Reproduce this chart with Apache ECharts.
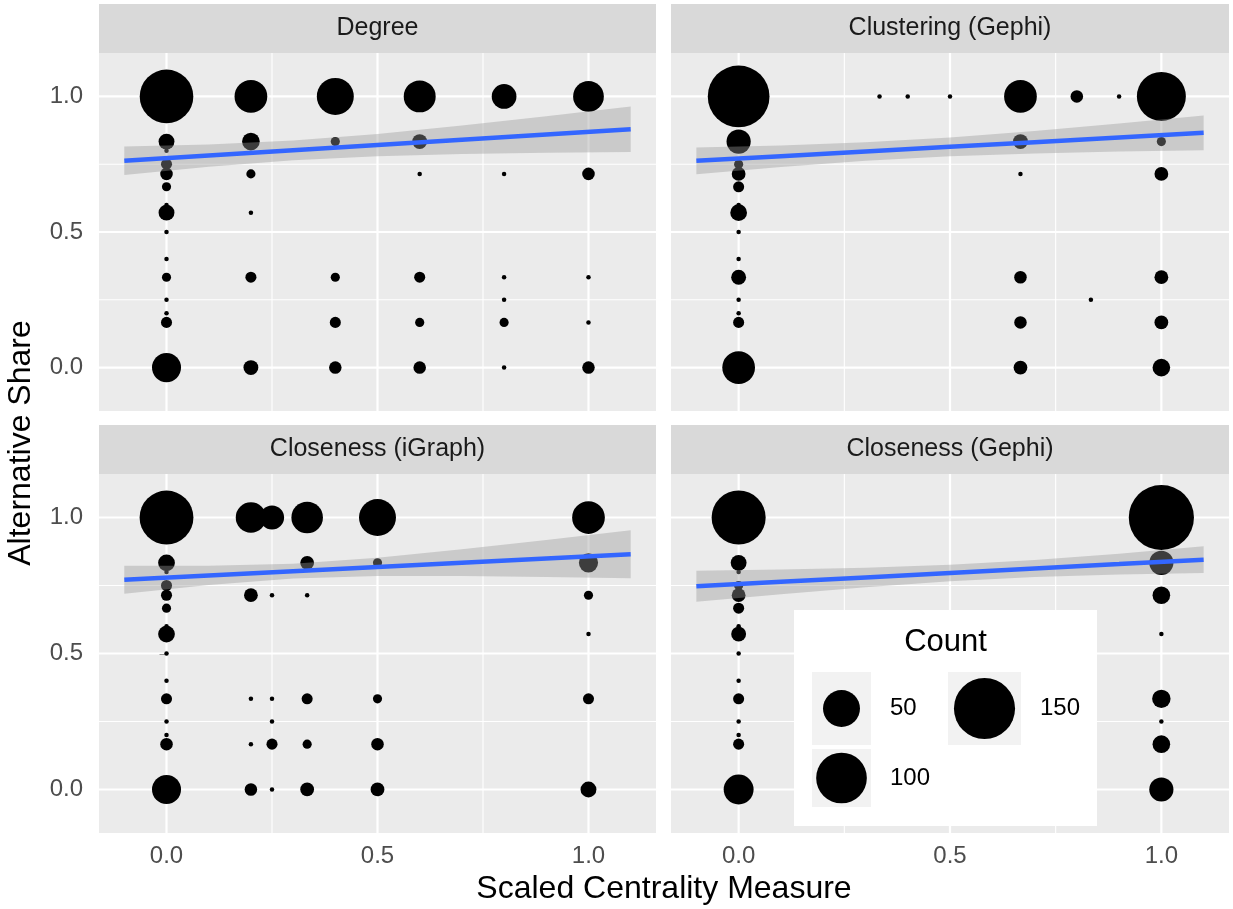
<!DOCTYPE html>
<html>
<head>
<meta charset="utf-8">
<script src="https://cdn.jsdelivr.net/npm/echarts@6/dist/echarts.min.js"></script>
<style>
  html, body { margin: 0; padding: 0; background: #ffffff; }
  #chart { width: 1233px; height: 909px; }
</style>
</head>
<body>
<div id="chart"></div>
<script>
// ---- data -------------------------------------------------------------
const panelNames = ['Degree', 'Clustering (Gephi)', 'Closeness (iGraph)', 'Closeness (Gephi)'];
const xTicks = [0, 0.5, 1];
const yTicks = [0, 0.5, 1];
const minorBreaks = [0.25, 0.75];
const legendCounts = [50, 100, 150];

// [scaled centrality, alternative share, count]
const degreePts = [
  [0, 1, 113], [0.2, 1, 38], [0.4, 1, 50], [0.6, 1, 36], [0.8, 1, 20], [1, 1, 33],
  [0, 0.8333, 7], [0.2, 0.8333, 9], [0.4, 0.8333, 2], [0.6, 0.8333, 6],
  [0, 0.8, 1], [0, 0.75, 3],
  [0, 0.7143, 4], [0.2, 0.7143, 2], [0.6, 0.7143, 1], [0.8, 0.7143, 1], [1, 0.7143, 4],
  [0, 0.6667, 2], [0, 0.6, 1], [0, 0.5714, 7], [0.2, 0.5714, 1],
  [0, 0.5, 1], [0, 0.4, 1],
  [0, 0.3333, 2], [0.2, 0.3333, 3], [0.4, 0.3333, 2], [0.6, 0.3333, 3], [0.8, 0.3333, 1], [1, 0.3333, 1],
  [0, 0.25, 1], [0.8, 0.25, 1], [0, 0.2, 1],
  [0, 0.1667, 3], [0.4, 0.1667, 3], [0.6, 0.1667, 2], [0.8, 0.1667, 2], [1, 0.1667, 1],
  [0, 0, 29], [0.2, 0, 6], [0.4, 0, 4], [0.6, 0, 4], [0.8, 0, 1], [1, 0, 4]
];
const clusteringPts = [
  [0, 1, 153], [0.3333, 1, 1], [0.4, 1, 1], [0.5, 1, 1], [0.6667, 1, 38], [0.8, 1, 4], [0.9, 1, 1], [1, 1, 93],
  [0, 0.8333, 19], [0.6667, 0.8333, 6], [1, 0.8333, 2],
  [0, 0.8, 1], [0, 0.75, 2],
  [0, 0.7143, 5], [0.6667, 0.7143, 1], [1, 0.7143, 5],
  [0, 0.6667, 3], [0, 0.6, 1], [0, 0.5714, 8],
  [0, 0.5, 1], [0, 0.4, 1],
  [0, 0.3333, 6], [0.6667, 0.3333, 4], [1, 0.3333, 5],
  [0, 0.25, 1], [0.8333, 0.25, 1], [0, 0.2, 1],
  [0, 0.1667, 3], [0.6667, 0.1667, 4], [1, 0.1667, 5],
  [0, 0, 38], [0.6667, 0, 5], [1, 0, 9]
];
const closenessIgraphPts = [
  [0, 1, 114], [0.2, 1, 32], [0.25, 1, 19], [0.3333, 1, 35], [0.5, 1, 50], [1, 1, 38],
  [0, 0.8333, 8], [0.3333, 0.8333, 5], [0.5, 0.8333, 2], [1, 0.8333, 11],
  [0, 0.8, 1], [0, 0.75, 3],
  [0, 0.7143, 3], [0.2, 0.7143, 5], [0.25, 0.7143, 1], [0.3333, 0.7143, 1], [1, 0.7143, 2],
  [0, 0.6667, 2], [0, 0.6, 1], [0, 0.5714, 8], [1, 0.5714, 1],
  [0, 0.5, 1], [0, 0.4, 1],
  [0, 0.3333, 3], [0.2, 0.3333, 1], [0.25, 0.3333, 1], [0.3333, 0.3333, 3], [0.5, 0.3333, 2], [1, 0.3333, 3],
  [0, 0.25, 1], [0.25, 0.25, 1], [0, 0.2, 1],
  [0, 0.1667, 4], [0.2, 0.1667, 1], [0.25, 0.1667, 3], [0.3333, 0.1667, 2], [0.5, 0.1667, 4],
  [0, 0, 29], [0.2, 0, 4], [0.25, 0, 1], [0.3333, 0, 5], [0.5, 0, 5], [1, 0, 7]
];
const closenessGephiPts = [
  [0, 1, 115], [1, 1, 172],
  [0, 0.8333, 7], [1, 0.8333, 19],
  [0, 0.8, 1], [0, 0.75, 2],
  [0, 0.7143, 5], [1, 0.7143, 9],
  [0, 0.6667, 3], [0, 0.6, 1], [0, 0.5714, 6], [1, 0.5714, 1],
  [0, 0.5, 1], [0, 0.4, 1],
  [0, 0.3333, 3], [1, 0.3333, 10],
  [0, 0.25, 1], [1, 0.25, 1], [0, 0.2, 1],
  [0, 0.1667, 3], [1, 0.1667, 9],
  [0, 0, 31], [1, 0, 19]
];

// linear fit with its confidence band: [x, fit, lower, upper]
const degreeFit = [
  [-0.1, 0.7623, 0.7098, 0.8148], [0.1, 0.7817, 0.7407, 0.8227], [0.3, 0.8011, 0.7647, 0.8375],
  [0.5, 0.8205, 0.7795, 0.8615], [0.7, 0.8399, 0.7874, 0.8924], [0.9, 0.8593, 0.7919, 0.9267],
  [1.1, 0.8787, 0.7947, 0.9627]
];
const clusteringFit = [
  [-0.1, 0.7624, 0.7129, 0.8119], [0.1, 0.7796, 0.7399, 0.8193], [0.3, 0.7968, 0.7626, 0.8310],
  [0.5, 0.8140, 0.7792, 0.8488], [0.7, 0.8312, 0.7898, 0.8726], [0.9, 0.8484, 0.7966, 0.9002],
  [1.1, 0.8656, 0.8016, 0.9296]
];
const closenessIgraphFit = [
  [-0.1, 0.7715, 0.7200, 0.8230], [0.1, 0.7871, 0.7519, 0.8223], [0.3, 0.8027, 0.7756, 0.8298],
  [0.5, 0.8183, 0.7847, 0.8519], [0.7, 0.8339, 0.7846, 0.8832], [0.9, 0.8495, 0.7813, 0.9177],
  [1.1, 0.8651, 0.7770, 0.9532]
];
const closenessGephiFit = [
  [-0.1, 0.7470, 0.6900, 0.8040], [0.1, 0.7634, 0.7181, 0.8087], [0.3, 0.7797, 0.7440, 0.8154],
  [0.5, 0.7961, 0.7657, 0.8265], [0.7, 0.8124, 0.7809, 0.8439], [0.9, 0.8287, 0.7902, 0.8672],
  [1.1, 0.8451, 0.7961, 0.8941]
];

// ---- layout & style ---------------------------------------------------
const FONT = '"Liberation Sans", Arial, Helvetica, sans-serif';
const panels = [
  { name: panelNames[0], pts: degreePts,          fit: degreeFit,          rect: [99, 53, 557, 358] },
  { name: panelNames[1], pts: clusteringPts,      fit: clusteringFit,      rect: [671, 53, 558, 358] },
  { name: panelNames[2], pts: closenessIgraphPts, fit: closenessIgraphFit, rect: [99, 474, 557, 359] },
  { name: panelNames[3], pts: closenessGephiPts,  fit: closenessGephiFit,  rect: [671, 474, 558, 359] }
];
const STRIP_H = 49;

// point diameter (px) from count: area grows with count
function sizeFor(count) {
  return 4.5 + 4.64 * Math.sqrt(Math.max(count - 1, 0));
}

function gridLineSeries(i, values, width) {
  return {
    type: 'custom', xAxisIndex: i, yAxisIndex: i, silent: true, z: 1,
    data: values.map(v => [v, v]),
    renderItem(params, api) {
      const cs = params.coordSys;
      const p = api.coord([api.value(0), api.value(1)]);
      const st = { stroke: '#ffffff', lineWidth: width };
      return {
        type: 'group',
        children: [
          { type: 'line', shape: { x1: p[0], y1: cs.y, x2: p[0], y2: cs.y + cs.height }, style: st },
          { type: 'line', shape: { x1: cs.x, y1: p[1], x2: cs.x + cs.width, y2: p[1] }, style: st }
        ]
      };
    }
  };
}

function ribbonSeries(i, rows) {
  return {
    type: 'custom', xAxisIndex: i, yAxisIndex: i, silent: true, z: 3,
    data: rows, encode: { x: 0, y: 1 },
    renderItem(params, api) {
      if (params.dataIndex !== 0) return null;
      const upper = rows.map(r => api.coord([r[0], r[3]]));
      const lower = rows.slice().reverse().map(r => api.coord([r[0], r[2]]));
      return {
        type: 'polygon',
        shape: { points: upper.concat(lower) },
        style: { fill: 'rgba(153,153,153,0.4)', stroke: null }
      };
    }
  };
}

const series = [];
panels.forEach((p, i) => {
  series.push(gridLineSeries(i, minorBreaks, 1.1));
  series.push(gridLineSeries(i, xTicks, 2.2));
  series.push({
    type: 'scatter', xAxisIndex: i, yAxisIndex: i, z: 2, silent: true,
    data: p.pts,
    symbol: 'circle',
    symbolSize: v => sizeFor(v[2]),
    itemStyle: { color: '#000000', opacity: 1 }
  });
  series.push(ribbonSeries(i, p.fit));
  series.push({
    type: 'line', xAxisIndex: i, yAxisIndex: i, z: 4, silent: true,
    data: p.fit.map(r => [r[0], r[1]]),
    showSymbol: false, symbol: 'none',
    lineStyle: { color: '#3366FF', width: 4.5 }
  });
});

const graphics = [];
panels.forEach(p => {
  const [x, y, w] = p.rect;
  graphics.push({
    type: 'rect', silent: true, z: 1,
    shape: { x: x, y: y - STRIP_H, width: w, height: STRIP_H },
    style: { fill: '#d9d9d9' }
  });
  graphics.push({
    type: 'text', silent: true, z: 2,
    style: {
      x: x + w / 2, y: y - STRIP_H / 2, text: p.name,
      textAlign: 'center', textVerticalAlign: 'middle',
      font: '25px ' + FONT, fill: '#1a1a1a'
    }
  });
});

// axis titles
graphics.push({
  type: 'text', silent: true,
  style: { x: 664, y: 889, text: 'Scaled Centrality Measure', textAlign: 'center', textVerticalAlign: 'middle', font: '32px ' + FONT, fill: '#000000' }
});
graphics.push({
  type: 'text', silent: true, rotation: Math.PI / 2, x: 21, y: 443,
  style: { x: 0, y: 0, text: 'Alternative Share', textAlign: 'center', textVerticalAlign: 'middle', font: '32px ' + FONT, fill: '#000000' }
});

// size legend inside the lower-right panel
const LEG = { x: 794, y: 610, w: 303, h: 216 };
const legendKeys = [
  { key: [812, 672, 59, 73], label: [890, 708] },
  { key: [812, 749, 59, 58], label: [890, 778] },
  { key: [948, 672, 73, 73], label: [1040, 708] }
];
const LZ = 100;
graphics.push({ type: 'rect', silent: true, z: LZ, shape: { x: LEG.x, y: LEG.y, width: LEG.w, height: LEG.h }, style: { fill: '#ffffff' } });
graphics.push({ type: 'text', silent: true, z: LZ + 1, style: { x: LEG.x + LEG.w / 2, y: 642, text: 'Count', textAlign: 'center', textVerticalAlign: 'middle', font: '31px ' + FONT, fill: '#000000' } });
legendCounts.forEach((c, k) => {
  const kb = legendKeys[k].key, lb = legendKeys[k].label;
  graphics.push({ type: 'rect', silent: true, z: LZ + 1, shape: { x: kb[0], y: kb[1], width: kb[2], height: kb[3] }, style: { fill: '#f2f2f2' } });
  graphics.push({ type: 'circle', silent: true, z: LZ + 2, shape: { cx: kb[0] + kb[2] / 2, cy: kb[1] + kb[3] / 2, r: sizeFor(c) / 2 }, style: { fill: '#000000' } });
  graphics.push({ type: 'text', silent: true, z: LZ + 2, style: { x: lb[0], y: lb[1], text: String(c), textAlign: 'left', textVerticalAlign: 'middle', font: '24px ' + FONT, fill: '#000000' } });
});

const option = {
  animation: false,
  backgroundColor: '#ffffff',
  grid: panels.map(p => ({
    left: p.rect[0], top: p.rect[1], width: p.rect[2], height: p.rect[3],
    show: true, backgroundColor: '#ebebeb', borderWidth: 0
  })),
  xAxis: panels.map((p, i) => ({
    gridIndex: i, type: 'value', min: -0.16, max: 1.16,
    splitLine: { show: false }, axisLine: { show: false },
    axisTick: { show: i >= 2, customValues: xTicks, length: 7, lineStyle: { color: '#333333', width: 2 } },
    axisLabel: { show: i >= 2, customValues: xTicks, formatter: v => v.toFixed(1), color: '#4d4d4d', fontSize: 24, fontFamily: FONT, margin: 11 }
  })),
  yAxis: panels.map((p, i) => ({
    gridIndex: i, type: 'value', min: -0.16, max: 1.16,
    splitLine: { show: false }, axisLine: { show: false },
    axisTick: { show: i % 2 === 0, customValues: yTicks, length: 7, lineStyle: { color: '#333333', width: 2 } },
    axisLabel: { show: i % 2 === 0, customValues: yTicks, formatter: v => v.toFixed(1), color: '#4d4d4d', fontSize: 24, fontFamily: FONT, margin: 16 }
  })),
  series: series,
  graphic: graphics
};

const chart = echarts.init(document.getElementById('chart'), null, { renderer: 'canvas' });
chart.setOption(option);
</script>
</body>
</html>
